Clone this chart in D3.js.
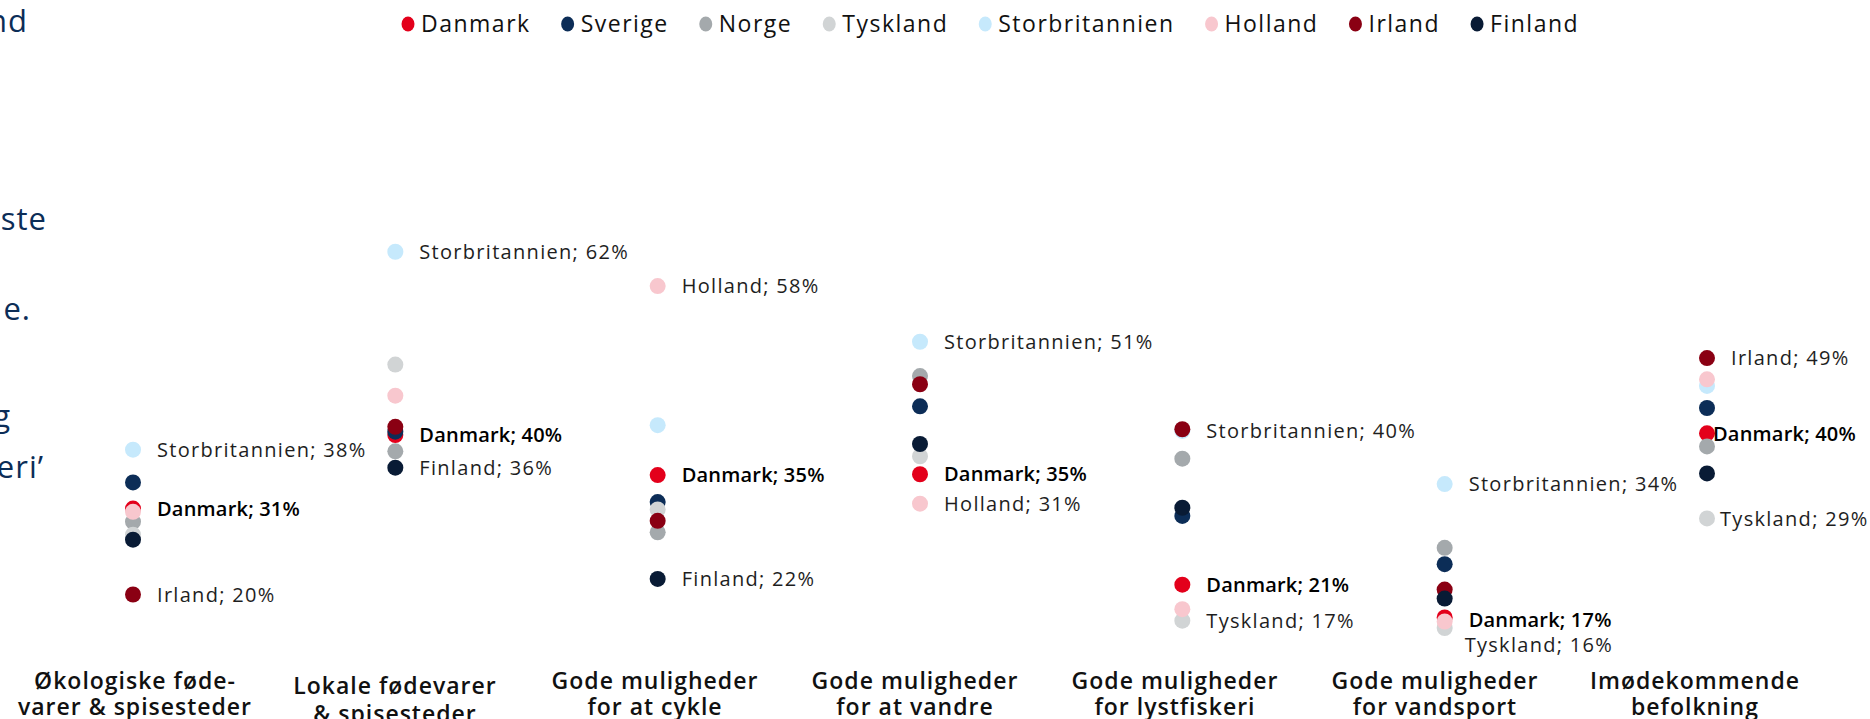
<!DOCTYPE html>
<html>
<head>
<meta charset="utf-8">
<script src="https://cdn.jsdelivr.net/npm/d3@7"></script>
<style>
  html, body { margin: 0; padding: 0; background: #fff; overflow: hidden; }
  svg { display: block; }
</style>
</head>
<body>
<svg id="chart" width="1870" height="719"></svg>
<script>
// categories (two line labels)
const categories = [
	["Økologiske føde-", "varer & spisesteder"],
	["Lokale fødevarer", "& spisesteder"],
	["Gode muligheder", "for at cykle"],
	["Gode muligheder", "for at vandre"],
	["Gode muligheder", "for lystfiskeri"],
	["Gode muligheder", "for vandsport"],
	["Imødekommende", "befolkning"]
];

const countries = ["Danmark", "Sverige", "Norge", "Tyskland", "Storbritannien", "Holland", "Irland", "Finland"];
const colors    = ["#e3001b", "#0c2d57", "#a4a9ac", "#d1d4d5", "#c6e9fc", "#f8c7ce", "#8a0013", "#091b35"];

// share (%) per country, one value per category
const danmark        = [30.6, 39.6, 34.7, 34.8, 21.3, 17.3, 39.8];
const sverige        = [33.8, 40.0, 31.4, 43.1, 29.7, 23.8, 42.9];
const norge          = [29.0, 37.6, 27.7, 46.8, 36.7, 25.8, 38.2];
const tyskland       = [27.4, 48.2, 30.5, 37.0, 16.9, 16.0, 29.4];
const storbritannien = [37.8, 62.0, 40.8, 51.0, 40.1, 33.6, 45.6];
const holland        = [30.2, 44.4, 57.8, 31.2, 18.3, 16.8, 46.4];
const irland         = [20.1, 40.6, 29.1, 45.8, 40.3, 20.7, 49.0];
const finland        = [26.8, 35.6, 22.0, 38.5, 30.7, 19.6, 34.9];
const values = [danmark, sverige, norge, tyskland, storbritannien, holland, irland, finland];

// which dot gets a text label, per category
const labelled = [
	["Storbritannien", "Danmark", "Irland"],
	["Storbritannien", "Danmark", "Finland"],
	["Holland", "Danmark", "Finland"],
	["Storbritannien", "Danmark", "Holland"],
	["Storbritannien", "Danmark", "Tyskland"],
	["Storbritannien", "Danmark", "Tyskland"],
	["Irland", "Danmark", "Tyskland"]
];

// left text block (cut off by the frame)
const introText = ["nd", "ste", "e.", "g", "eri’"];

function load_dotplot(svg_name) {

	let chart = d3.select(svg_name);
	let font = "'Open Sans', 'Noto Sans', sans-serif";

	// x position of the dots
	let x = d3.scalePoint()
		.domain(d3.range(categories.length))
		.range([133, 1707]);

	// x position of the category labels
	let xLabel = d3.scalePoint()
		.domain(d3.range(categories.length))
		.range([135, 1695]);

	// y position scale
	let y = d3.scaleLinear()
		.domain([0, 60])
		.range([758.9, 268.1]);

	// intro text fragments at the left edge
	let introPos = [[28, 32], [47, 230], [31, 320], [11, 427], [44, 478]];
	chart.selectAll(".intro")
		.data(introText)
		.enter()
		.append("text")
		.attr("class", "intro")
		.text(d => d)
		.attr("x", (d, i) => introPos[i][0])
		.attr("y", (d, i) => introPos[i][1])
		.attr("text-anchor", "end")
		.style("font-family", font)
		.style("font-size", "31px")
		.style("letter-spacing", "1px")
		.style("fill", "#0c2d57");

	// DOTS - one group per country, legend order = drawing order
	countries.forEach(function(c, ci) {
		chart.append("g")
			.selectAll("circle")
			.data(values[ci])
			.enter()
			.append("circle")
			.attr("cx", (d, i) => x(i))
			.attr("cy", d => y(d))
			.attr("r", 8)
			.style("fill", colors[ci]);
	});

	// DOT LABELS
	let offsets = { "6-Danmark": [6, 0], "6-Tyskland": [13, 0], "5-Tyskland": [20, 17], "5-Danmark": [24, 2] };
	labelled.forEach(function(list, cat) {
		list.forEach(function(c) {
			let ci = countries.indexOf(c);
			let v = values[ci][cat];
			let off = offsets[cat + "-" + c] || [24, 0];
			let bold = c === "Danmark";
			chart.append("text")
				.text(c + "; " + Math.round(v) + "%")
				.attr("x", x(cat) + off[0])
				.attr("y", y(v) + off[1])
				.attr("dy", "0.36em")
				.style("font-family", font)
				.style("font-size", "20px")
				.style("font-weight", bold ? 600 : 400)
				.style("letter-spacing", bold ? "0.2px" : "1.3px")
				.style("fill", bold ? "#000" : "#1e1e1e");
		});
	});

	// CATEGORY LABELS
	categories.forEach(function(lines, i) {
		let t = chart.append("text")
			.attr("text-anchor", "middle")
			.style("font-family", font)
			.style("font-size", "23px")
			.style("font-weight", 600)
			.style("letter-spacing", "1px")
			.style("fill", "#111");
		let base = i === 1 ? 694 : 689;
		lines.forEach(function(l, j) {
			t.append("tspan")
				.text(l)
				.attr("x", xLabel(i))
				.attr("y", base + j * (i === 1 ? 28 : 26));
		});
	});

	// LEGEND - flows left to right
	let legend = chart.append("g").attr("transform", "translate(408, 24)");
	let lx = 0;
	countries.forEach(function(c, ci) {
		legend.append("ellipse")
			.attr("cx", lx)
			.attr("cy", 0)
			.attr("rx", 6.5)
			.attr("ry", 7.5)
			.style("fill", colors[ci]);
		let t = legend.append("text")
			.text(c)
			.attr("x", lx + 13)
			.attr("y", 0)
			.attr("dy", "0.36em")
			.style("font-family", font)
			.style("font-size", "23px")
			.style("letter-spacing", "1.5px")
			.style("fill", "#111");
		lx += 13 + t.node().getComputedTextLength() + 37;
	});

	return { chart: chart, x_scale: x, y_scale: y };
}

load_dotplot("#chart");
</script>
</body>
</html>
